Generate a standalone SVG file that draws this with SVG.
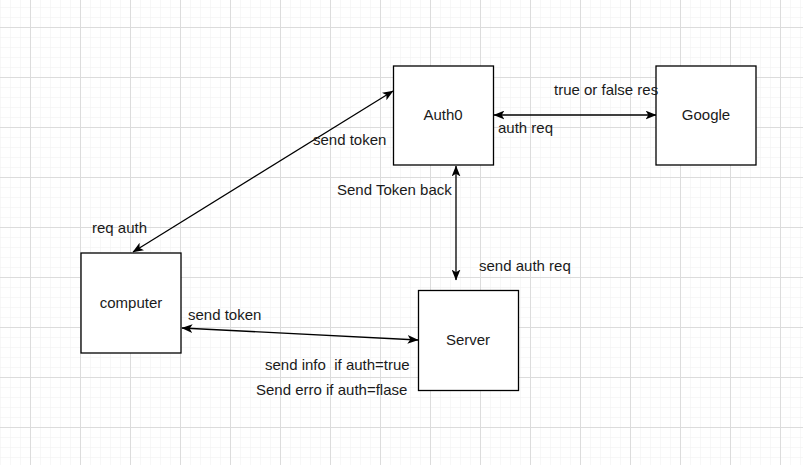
<svg xmlns="http://www.w3.org/2000/svg" width="803" height="465" viewBox="0 0 803 465">
<style>
.node{fill:#ffffff;stroke:#000000;stroke-width:1.3}
.lbl{font-family:"Liberation Sans",Arial,sans-serif;font-size:15px;fill:#1a1a1a;white-space:pre}
.mid{text-anchor:middle}
.edge{stroke:#000000;stroke-width:1.3;fill:none;marker-start:url(#arr);marker-end:url(#arr)}
</style>
<defs>
<pattern id="minor" patternUnits="userSpaceOnUse" x="0" y="7" width="10" height="10">
<path d="M0,0 H10 M0,0 V10" stroke="#efefef" stroke-width="1" fill="none"/>
</pattern>
<pattern id="major" patternUnits="userSpaceOnUse" x="30" y="27" width="50" height="50">
<path d="M0,0.5 H50 M0.5,0 V50" stroke="#dcdcdc" stroke-width="1" fill="none"/>
</pattern>
<marker id="arr" viewBox="0 0 10 8" refX="9.5" refY="4" markerWidth="11" markerHeight="9" markerUnits="userSpaceOnUse" orient="auto-start-reverse">
<path d="M0,0 L10,4 L0,8 L2.5,4 Z" fill="#000000"/>
</marker>
</defs>
<rect width="803" height="465" fill="#ffffff"/>
<rect width="803" height="465" fill="url(#minor)"/>
<rect width="803" height="465" fill="url(#major)"/>
<g id="connectors">
<line class="edge" x1="133" y1="252" x2="393" y2="91"/>
<line class="edge" x1="494" y1="115" x2="656" y2="115"/>
<line class="edge" x1="456" y1="166" x2="456" y2="280"/>
<line class="edge" x1="182" y1="328" x2="418" y2="340"/>
</g>
<g id="auth0">
<rect class="node" x="393.5" y="66" width="100" height="99"/>
<text class="lbl mid" x="443" y="120">Auth0</text>
</g>
<g id="google">
<rect class="node" x="656" y="66" width="100" height="99"/>
<text class="lbl mid" x="706" y="120">Google</text>
</g>
<g id="computer">
<rect class="node" x="81" y="253" width="100" height="100"/>
<text class="lbl mid" x="131" y="308">computer</text>
</g>
<g id="server">
<rect class="node" x="418.5" y="290.5" width="100" height="100"/>
<text class="lbl mid" x="468" y="345">Server</text>
</g>
<g id="labels">
<text class="lbl" x="554" y="95">true or false res</text>
<text class="lbl" x="498" y="133">auth req</text>
<text class="lbl" x="313" y="145">send token</text>
<text class="lbl" x="337" y="195">Send Token back</text>
<text class="lbl" x="92" y="233">req auth</text>
<text class="lbl" x="479" y="271">send auth req</text>
<text class="lbl" x="188" y="320">send token</text>
<text class="lbl" x="265" y="370" xml:space="preserve">send info  if auth=true</text>
<text class="lbl" x="256" y="395">Send erro if auth=flase</text>
</g>
</svg>
